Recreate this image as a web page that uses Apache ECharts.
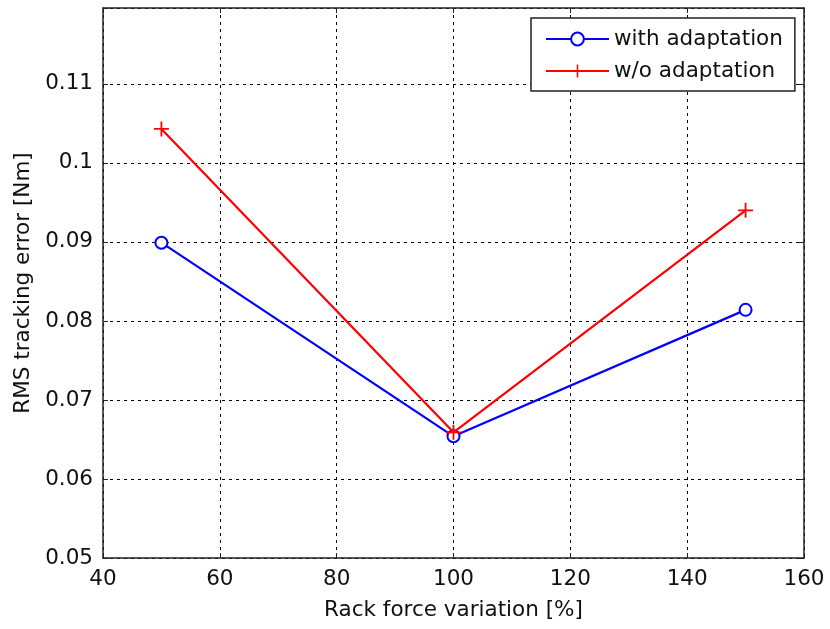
<!DOCTYPE html>
<html><head><meta charset="utf-8">
<script src="https://cdn.jsdelivr.net/npm/echarts@6/dist/echarts.min.js"></script>
<style>html,body{margin:0;padding:0;background:#fff}#c{width:830px;height:629px}</style>
</head><body><div id="c"></div>
<script>
const xValues = [50, 100, 150];
const withAdaptation = [0.0899, 0.0654, 0.0814];
const withoutAdaptation = [0.1043, 0.0659, 0.0940];
const seriesNames = ['with adaptation', 'w/o adaptation'];
const xTicks = [40, 60, 80, 100, 120, 140, 160];
const yTicks = [0.05, 0.06, 0.07, 0.08, 0.09, 0.1, 0.11];

const FONT = '"DejaVu Sans", sans-serif';
const FS = 21.5;
const yMax = 0.1196;
const plus = 'path://M4.4,0H5.6V4.4H10V5.6H5.6V10H4.4V5.6H0V4.4H4.4Z';

function yFmt(v){
  for (const t of yTicks) if (Math.abs(v - t) < 1e-9) return String(t);
  return '';
}
const dashed = {show:true, lineStyle:{color:'#000', type:[3,4], width:1}};
const chart = echarts.init(document.getElementById('c'));
chart.setOption({
  animation:false,
  backgroundColor:'#fff',
  textStyle:{fontFamily:FONT},
  grid:{left:103, top:8, right:26, bottom:71, show:false},
  legend:{
    orient:'vertical', left:531, top:18,
    backgroundColor:'#fff', borderColor:'#222', borderWidth:1.5,
    padding:[10, 12, 9, 14], itemGap:10,
    itemWidth:63, itemHeight:16,
    textStyle:{fontFamily:FONT, fontSize:FS, color:'#111'},
    data:seriesNames
  },
  xAxis:[{
    type:'value', min:40, max:160, interval:20, position:'bottom',
    name:'Rack force variation [%]', nameLocation:'middle', nameGap:41,
    nameTextStyle:{fontSize:FS, color:'#111', fontFamily:FONT},
    axisLine:{show:true, onZero:false, lineStyle:{color:'#222', width:1.5}},
    axisTick:{show:true, inside:true, length:5, lineStyle:{color:'#222'}},
    axisLabel:{fontSize:FS, color:'#111', margin:10, fontFamily:FONT, formatter:v=>xTicks.includes(v)?String(v):''},
    splitLine:dashed
  },{
    type:'value', min:40, max:160, interval:20, position:'top',
    axisLine:{show:true, onZero:false, lineStyle:{color:'#222', width:1.5}},
    axisTick:{show:true, inside:true, length:5, lineStyle:{color:'#222'}},
    axisLabel:{show:false}, splitLine:{show:false}
  }],
  yAxis:[{
    type:'value', min:0.05, max:yMax, interval:0.01, position:'left',
    name:'RMS tracking error [Nm]', nameLocation:'middle', nameGap:68, nameRotate:90,
    nameTextStyle:{fontSize:FS, color:'#111', fontFamily:FONT},
    axisLine:{show:true, onZero:false, lineStyle:{color:'#222', width:1.5}},
    axisTick:{show:true, inside:true, length:5, lineStyle:{color:'#222'}},
    axisLabel:{fontSize:FS, color:'#111', margin:10, formatter:yFmt, fontFamily:FONT},
    splitLine:dashed
  },{
    type:'value', min:0.05, max:yMax, interval:0.01, position:'right',
    axisLine:{show:true, onZero:false, lineStyle:{color:'#222', width:1.5}},
    axisTick:{show:true, inside:true, length:5, lineStyle:{color:'#222'}},
    axisLabel:{show:false}, splitLine:{show:false}
  }],
  series:[{
    name:seriesNames[0], type:'line',
    data:xValues.map((x,i)=>[x, withAdaptation[i]]),
    color:'#0000ff',
    lineStyle:{color:'#0000ff', width:2.2},
    symbol:'circle', symbolSize:12,
    itemStyle:{color:'#fff', borderColor:'#0000ff', borderWidth:2},
    z:2
  },{
    name:seriesNames[1], type:'line',
    data:xValues.map((x,i)=>[x, withoutAdaptation[i]]),
    color:'#ff0000',
    lineStyle:{color:'#ff0000', width:2.2},
    symbol:plus, symbolSize:15,
    itemStyle:{color:'#ff0000', borderWidth:0},
    z:3
  }]
});
</script></body></html>
